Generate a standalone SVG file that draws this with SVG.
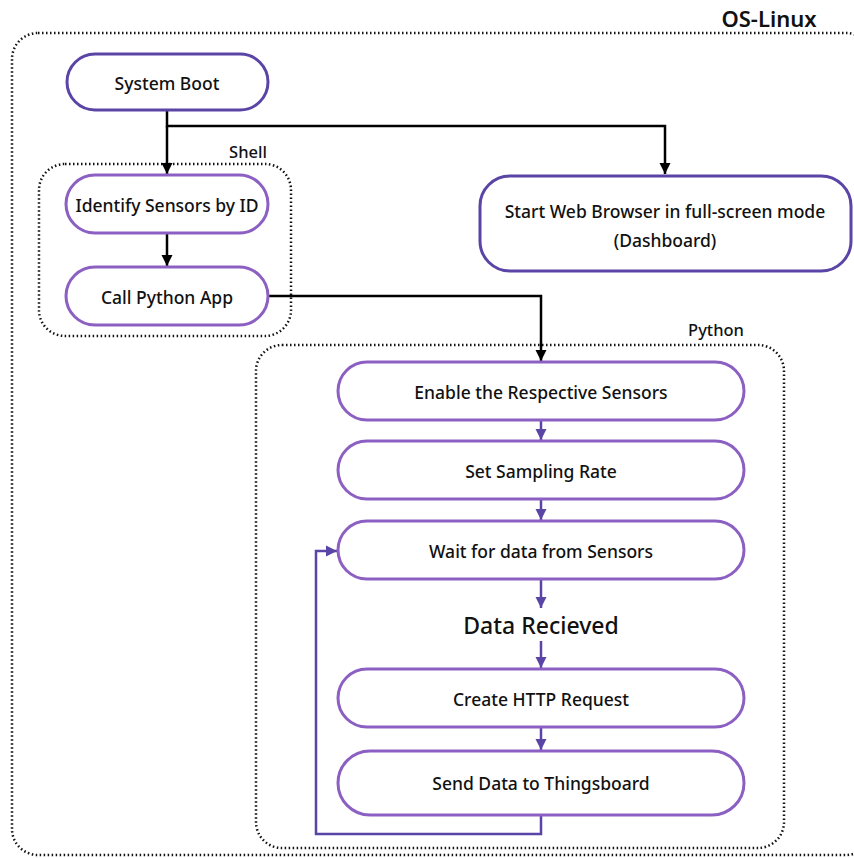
<svg xmlns="http://www.w3.org/2000/svg" width="854" height="858" viewBox="0 0 854 858">
<defs>
<style>
.t{font-family:"Noto Sans","Open Sans",sans-serif;font-size:17.5px;font-weight:500;fill:#111;text-anchor:middle;dominant-baseline:central}
.lbl{font-family:"Noto Sans","Open Sans",sans-serif;font-weight:500;fill:#111;text-anchor:middle}
.grp{fill:none;stroke:#111;stroke-width:2.5;stroke-dasharray:1.5 2.5}
.dk{fill:#fff;stroke:#5a45a6;stroke-width:3}
.lt{fill:#fff;stroke:#8c5fc2;stroke-width:3}
.bk{fill:none;stroke:#000;stroke-width:2.5}
.pu{fill:none;stroke:#5a45a6;stroke-width:2.5}
</style>
<marker id="ab" viewBox="0 0 10 10" refX="10" refY="5" markerWidth="4.5" markerHeight="4.5" orient="auto" markerUnits="strokeWidth"><path d="M0,0 L10,5 L0,10 z" fill="#000"/></marker>
<marker id="ap" viewBox="0 0 10 10" refX="10" refY="5" markerWidth="4.5" markerHeight="4.5" orient="auto" markerUnits="strokeWidth"><path d="M0,0 L10,5 L0,10 z" fill="#5a45a6"/></marker>
</defs>
<rect width="854" height="858" fill="#fff"/>
<g id="groups">
<rect class="grp" x="12" y="33" width="860" height="822" rx="26"/>
<text class="lbl" x="769" y="27" style="font-size:22px;font-weight:600">OS-Linux</text>
<rect class="grp" x="39" y="164" width="252" height="172" rx="26"/>
<text class="lbl" x="248" y="158" style="font-size:16.5px">Shell</text>
<rect class="grp" x="256" y="345" width="528" height="503" rx="26"/>
<text class="lbl" x="716" y="336" style="font-size:16.5px">Python</text>
</g>
<g id="connectors">
<path class="bk" d="M167,110 V126 H665 V174" marker-end="url(#ab)"/>
<path class="bk" d="M167,126 V174" marker-end="url(#ab)"/>
<path class="bk" d="M167,233 V266" marker-end="url(#ab)"/>
<path class="bk" d="M268,296 H541 V361" marker-end="url(#ab)"/>
<path class="pu" d="M541,420 V440" marker-end="url(#ap)"/>
<path class="pu" d="M541,499 V520" marker-end="url(#ap)"/>
<path class="pu" d="M541,579 V608" marker-end="url(#ap)"/>
<path class="pu" d="M541,641 V668" marker-end="url(#ap)"/>
<path class="pu" d="M541,727 V750" marker-end="url(#ap)"/>
<path class="pu" d="M541,815 V834 H316 V551 H337" marker-end="url(#ap)"/>
</g>
<g id="n-boot"><rect class="dk" x="67" y="54" width="201" height="56" rx="28"/><text class="t" x="167" y="83">System Boot</text></g>
<g id="n-identify"><rect class="lt" x="66" y="175" width="202" height="58" rx="29"/><text class="t" x="167" y="205">Identify Sensors by ID</text></g>
<g id="n-call"><rect class="lt" x="66" y="267" width="202" height="58" rx="29"/><text class="t" x="167" y="297">Call Python App</text></g>
<g id="n-browser"><rect class="dk" x="480" y="176" width="371" height="95" rx="30"/><text class="t" x="665" y="211">Start Web Browser in full-screen mode</text><text class="t" x="665" y="240">(Dashboard)</text></g>
<g id="n-enable"><rect class="lt" x="338" y="362" width="406" height="58" rx="29"/><text class="t" x="541" y="392">Enable the Respective Sensors</text></g>
<g id="n-rate"><rect class="lt" x="338" y="441" width="406" height="58" rx="29"/><text class="t" x="541" y="471">Set Sampling Rate</text></g>
<g id="n-wait"><rect class="lt" x="338" y="521" width="406" height="58" rx="29"/><text class="t" x="541" y="551">Wait for data from Sensors</text></g>
<g id="n-received"><text class="t" x="541" y="625" style="font-size:23px">Data Recieved</text></g>
<g id="n-http"><rect class="lt" x="338" y="669" width="406" height="58" rx="29"/><text class="t" x="541" y="699">Create HTTP Request</text></g>
<g id="n-send"><rect class="lt" x="338" y="751" width="406" height="64" rx="32"/><text class="t" x="541" y="783">Send Data to Thingsboard</text></g>
</svg>
